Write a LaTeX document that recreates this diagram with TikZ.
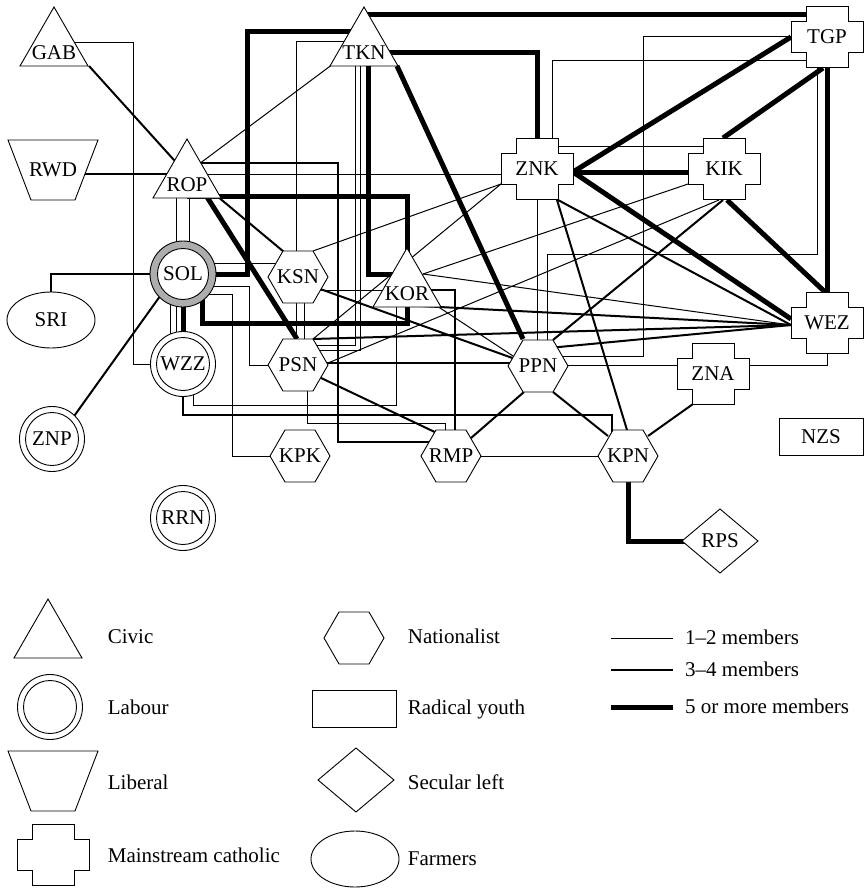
\documentclass[tikz,border=0pt]{standalone}
\usepackage{fontspec}
\setmainfont{Liberation Serif}
\usetikzlibrary{calc, positioning}

\pgfdeclarelayer{links}
\pgfdeclarelayer{shapes}
\pgfsetlayers{links,shapes,main}

\begin{document}
\begin{tikzpicture}[x=1pt, y=-1pt, node distance=12pt]
        % --- STYLES ---
        \tikzset{
            outline/.style={draw, fill=white, line width=0.9pt},
            party/.style={inner sep=0pt, font=\fontsize{21}{25}\selectfont},
            keytext/.style={party, text height=13.8pt, text depth=0pt},
            link12/.style={line width=1pt},
            link34/.style={line width=2pt},
            link5/.style={line width=5pt},
            civic/.style={party, append after command={\pgfextra{\begin{pgfonlayer}{shapes}
                \filldraw[outline, shift={(\tikzlastnode.center)}] (0,-46) -- (34,13) -- (-34,13) -- cycle;
                \end{pgfonlayer}}}},
            labour/.style={party, append after command={\pgfextra{\begin{pgfonlayer}{shapes}
                \filldraw[outline] (\tikzlastnode.center) circle[radius=32.5];
                \draw[line width=0.9pt] (\tikzlastnode.center) circle[radius=26.5];
                \end{pgfonlayer}}}},
            labourhatch/.style={party, append after command={\pgfextra{\begin{pgfonlayer}{shapes}
                \filldraw[outline, fill=black!32] (\tikzlastnode.center) circle[radius=33];
                \filldraw[outline] (\tikzlastnode.center) circle[radius=25.5];
                \end{pgfonlayer}}}},
            liberal/.style={party, append after command={\pgfextra{\begin{pgfonlayer}{shapes}
                \filldraw[outline, shift={(\tikzlastnode.center)}] (-45,-30) -- (45,-30) -- (22,30) -- (-22,30) -- cycle;
                \end{pgfonlayer}}}},
            catholic/.style={party, append after command={\pgfextra{\begin{pgfonlayer}{shapes}
                \filldraw[outline, shift={(\tikzlastnode.center)}] (-21,-30.5) -- (21,-30.5) -- (21,-15.5) -- (36,-15.5)
                    -- (36,15.5) -- (21,15.5) -- (21,30.5) -- (-21,30.5) -- (-21,15.5) -- (-36,15.5) -- (-36,-15.5) -- (-21,-15.5) -- cycle;
                \end{pgfonlayer}}}},
            nationalist/.style={party, append after command={\pgfextra{\begin{pgfonlayer}{shapes}
                \filldraw[outline, shift={(\tikzlastnode.center)}] (-30,0) -- (-15,-26) -- (15,-26) -- (30,0) -- (15,26) -- (-15,26) -- cycle;
                \end{pgfonlayer}}}},
            youth/.style={party, append after command={\pgfextra{\begin{pgfonlayer}{shapes}
                \filldraw[outline, shift={(\tikzlastnode.center)}] (-42,-18.5) rectangle (42,18.5);
                \end{pgfonlayer}}}},
            secular/.style={party, append after command={\pgfextra{\begin{pgfonlayer}{shapes}
                \filldraw[outline, shift={(\tikzlastnode.center)}] (-38,0) -- (0,-32) -- (38,0) -- (0,32) -- cycle;
                \end{pgfonlayer}}}},
            farmers/.style={party, append after command={\pgfextra{\begin{pgfonlayer}{shapes}
                \filldraw[outline] (\tikzlastnode.center) ellipse[x radius=44, y radius=28];
                \end{pgfonlayer}}}}
        }

        \useasboundingbox (0,0) rectangle (866,888);

        % --- PARTIES ---
        \node [civic] (GAB) at (54,53) {GAB};
        \node [civic] (TKN) at (364,53) {TKN};
        \node [catholic] (TGP) at (827,37) {TGP};
        \node [liberal] (RWD) at (53,170) {RWD};
        \node [civic] (ROP) at (187,185) {ROP};
        \node [catholic] (ZNK) at (537,169) {ZNK};
        \node [catholic] (KIK) at (724,169) {KIK};
        \node [labourhatch] (SOL) at (183,274) {SOL};
        \node [nationalist] (KSN) at (298,277) {KSN};
        \node [civic] (KOR) at (407,294) {KOR};
        \node [farmers] (SRI) at (51,320) {SRI};
        \node [catholic] (WEZ) at (827,323) {WEZ};
        \node [labour] (WZZ) at (183,364) {WZZ};
        \node [nationalist] (PSN) at (298,365) {PSN};
        \node [nationalist] (PPN) at (538,366) {PPN};
        \node [catholic] (ZNA) at (713,374) {ZNA};
        \node [youth] (NZS) at (821,437) {NZS};
        \node [labour] (ZNP) at (52,439) {ZNP};
        \node [nationalist] (KPK) at (300,456) {KPK};
        \node [nationalist] (RMP) at (451,456) {RMP};
        \node [nationalist] (KPN) at (628,456) {KPN};
        \node [labour] (RRN) at (183,518) {RRN};
        \node [secular] (RPS) at (720,541) {RPS};

        % --- LINKS ---
        \begin{pgfonlayer}{links}
            % 5 or more members
            \draw [link5] ($(TKN)+(0,-38)$) -- ($(TGP)+(0,-22)$);
            \draw [link5] (TKN.center) -| (ZNK.center);
            \draw [link5] (SOL.center) -| ($(TKN)+(-117,-21)$) -- ($(TKN)+(0,-21)$);
            \draw [link5] ($(TKN)+(4,0)$) |- ($(KOR)+(0,-20)$);
            \draw [link5] ($(TKN)+(33,13)$) -- ($(PPN)+(-15,-27)$);
            \draw [link5] ($(ROP)+(20,12)$) -- ($(PSN)+(-1,-26)$);
            \draw [link5] ($(ROP)+(0,11)$) -| (KOR.center);
            \draw [link5] ($(SOL)+(19,0)$) |- ($(KOR)+(0,29)$) -- (KOR.center);
            \draw [link5] (SOL.center) -- (WZZ.center);
            \draw [link5] ($(TGP)+(-36,0)$) -- ($(ZNK)+(36,3)$);
            \draw [link5] ($(TGP)+(-4,31)$) -- ($(KIK)+(-1,-31)$);
            \draw [link5] (TGP.center) -- (WEZ.center);
            \draw [link5] ($(ZNK)+(0,3)$) -- ($(KIK)+(0,3)$);
            \draw [link5] ($(ZNK)+(36,3)$) -- ($(WEZ)+(-36,-4)$);
            \draw [link5] ($(KIK)+(3,31)$) -- ($(WEZ)+(-2,-31)$);
            \draw [link5] (KPN.center) |- (RPS.center);

            % 3-4 members
            \draw [link34] ($(GAB)+(35,13)$) -- ($(ROP)+(-4,-15)$);
            \draw [link34] ($(RWD)+(0,4)$) -- ($(ROP)+(0,-11)$);
            \draw [link34] ($(ROP)+(18,1)$) -- ($(KSN)+(-8,-20)$);
            \draw [link34] ($(ROP)+(0,-22)$) -| ($(RMP)+(-113,-14)$) -- ($(RMP)+(0,-14)$);
            \draw [link34] (SOL.center) -| (SRI.center);
            \draw [link34] ($(ZNP)+(20,-20)$) -- ($(SOL)+(-20,18)$);
            \draw [link34] ($(KSN)+(0,4)$) -- ($(PPN)+(-20,-6)$);
            \draw [link34] ($(PSN)+(0,2)$) -- ($(RMP)+(-10,-21)$);
            \draw [link34] ($(PSN)+(0,-2)$) -- ($(PPN)+(0,-3)$);
            \draw [link34] ($(PSN)+(15,-26)$) -- ($(WEZ)+(-36,2)$);
            \draw [link34] ($(KOR)+(13,12)$) -- ($(WEZ)+(-36,2)$);
            \draw [link34] ($(PPN)+(0,-17)$) -- ($(WEZ)+(-36,2)$);
            \draw [link34] ($(KIK)+(-1,31)$) -- ($(PPN)+(15,-26)$);
            \draw [link34] ($(ZNK)+(21,31)$) -- ($(WEZ)+(-36,2)$);
            \draw [link34] ($(ZNK)+(20,31)$) -- ($(KPN)+(-1,-26)$);
            \draw [link34] ($(KOR)+(0,-4)$) -| ($(RMP)+(4,0)$);
            \draw [link34] (WZZ.center) |- ($(KPN)+(-16,-41)$) -- ($(KPN)+(-16,0)$);
            \draw [link34] ($(PPN)+(-14,26)$) -- ($(RMP)+(20,-18)$);
            \draw [link34] ($(PPN)+(15,26)$) -- ($(KPN)+(-20,-20)$);
            \draw [link34] ($(ZNA)+(-20,30)$) -- ($(KPN)+(20,-20)$);

            % 1-2 members
            \draw [link12] ($(GAB)+(0,-10)$) -| ($(WZZ)+(-50,0)$) -- (WZZ.center);
            \draw [link12] ($(TKN)+(-27,8)$) -- ($(ROP)+(0,-12)$);
            \draw [link12] ($(TKN)+(0,-11)$) -| ($(KSN)+(-2,0)$);
            \draw [link12] ($(ROP)+(0,-11)$) -- ($(ZNK)+(0,5)$);
            \draw [link12] ($(ROP)+(2,0)$) -- ($(SOL)+(6,0)$);
            \draw [link12] ($(ROP)+(-11,0)$) -- ($(WZZ)+(-7,0)$);
            \draw [link12] ($(SOL)+(-13,0)$) -- ($(WZZ)+(-13,0)$);
            \draw [link12] ($(SOL)+(0,-11)$) -- ($(KSN)+(0,-14)$);
            \draw [link12] ($(SOL)+(0,12)$) -| ($(PSN)+(-49,0)$) -- (PSN.center);
            \draw [link12] ($(SOL)+(0,20)$) -| ($(KPK)+(-68,0)$) -- (KPK.center);
            \draw [link12] ($(KSN)+(-2,0)$) -- ($(PSN)+(-2,0)$);
            \draw [link12] ($(KSN)+(6,0)$) -- ($(PSN)+(6,0)$);
            \draw [link12] ($(KSN)+(0,13)$) -- ($(KOR)+(0,-4)$);
            \draw [link12] ($(KSN)+(15,-26)$) -- ($(ZNK)+(-36,15)$);
            \draw [link12] ($(PSN)+(15,-26)$) -- ($(ZNK)+(-36,15)$);
            \draw [link12] ($(PSN)+(30,-2)$) -- ($(KIK)+(-5,31)$);
            \draw [link12] ($(KOR)+(16,-20)$) -- ($(KIK)+(-36,15)$);
            \draw [link12] ($(KOR)+(16,-20)$) -- ($(WEZ)+(-36,2)$);
            \draw [link12] ($(KOR)+(30,12)$) -- ($(PPN)+(-25,-10)$);
            \draw [link12] ($(WZZ)+(10,0)$) |- ($(KOR)+(-11,111)$) -- ($(KOR)+(-11,0)$);
            \draw [link12] ($(PSN)+(9,0)$) |- ($(RMP)+(-6,-33)$) -- ($(RMP)+(-6,0)$);
            \draw [link12] (TGP.center) -| ($(PPN)+(105,-10)$) -- ($(PPN)+(0,-10)$);
            \draw [link12] ($(TGP)+(0,24)$) -| ($(ZNK)+(15,0)$);
            \draw [link12] ($(TGP)+(-10,0)$) |- ($(PPN)+(9,-112)$) -- ($(PPN)+(9,0)$);
            \draw [link12] ($(ZNK)+(0,-23)$) -- ($(KIK)+(0,-23)$);
            \draw [link12] (ZNK.center) -- ($(PPN)+(-1,0)$);
            \draw [link12] ($(PPN)+(0,-1)$) -- ($(ZNA)+(0,-9)$);
            \draw [link12] ($(ZNA)+(0,-9)$) -| (WEZ.center);
            \draw [link12] (RMP.center) -- (KPN.center);
            \draw [link12] ($(TKN)+(-9,0)$) |- ($(PSN)+(0,-20)$);
            \draw [link12] ($(TKN)+(-4,0)$) |- ($(PSN)+(0,-15)$);
        \end{pgfonlayer}

        % --- LEGEND ---
        \node [civic] (keyCivic) at (48,645) {};
        \node [labour] (keyLabour) at (50,707) {};
        \node [liberal] (keyLiberal) at (53,781) {};
        \node [catholic] (keyCatholic) at (53,855) {};
        \node [nationalist] (keyNation) at (354,638) {};
        \node [youth] (keyYouth) at (354,709) {};
        \node [secular] (keySecular) at (356,780) {};
        \node [farmers] (keyFarmers) at (355,859) {};

        \node [keytext, right=59pt of keyCivic, yshift=8pt] (txtCivic) {Civic};
        \node [keytext, right=57pt of keyLabour, yshift=-1pt] (txtLabour) {Labour};
        \node [keytext, right=54pt of keyLiberal, yshift=-2pt] (txtLiberal) {Liberal};
        \node [keytext, right=54pt of keyCatholic, yshift=-1pt] (txtCatholic) {Mainstream catholic};
        \node [keytext, right=53pt of keyNation, yshift=1pt] (txtNation) {Nationalist};
        \node [keytext, right=53pt of keyYouth, yshift=1pt] (txtYouth) {Radical youth};
        \node [keytext, right=51pt of keySecular, yshift=-3pt] (txtSecular) {Secular left};
        \node [keytext, right=52pt of keyFarmers] (txtFarmers) {Farmers};

        \coordinate (keyThinA) at (611,638);
        \coordinate (keyThinB) at (673,638);
        \coordinate (keyMidA) at (611,670);
        \coordinate (keyMidB) at (673,670);
        \coordinate (keyThickA) at (611,707);
        \coordinate (keyThickB) at (673,707);
        \draw [link12] (keyThinA) -- (keyThinB);
        \draw [link34] (keyMidA) -- (keyMidB);
        \draw [link5] (keyThickA) -- (keyThickB);
        \node [keytext, right=of keyThinB] (txtThin) {1–2 members};
        \node [keytext, right=of keyMidB] (txtMid) {3–4 members};
        \node [keytext, right=of keyThickB] (txtThick) {5 or more members};

    \end{tikzpicture}
\end{document}
